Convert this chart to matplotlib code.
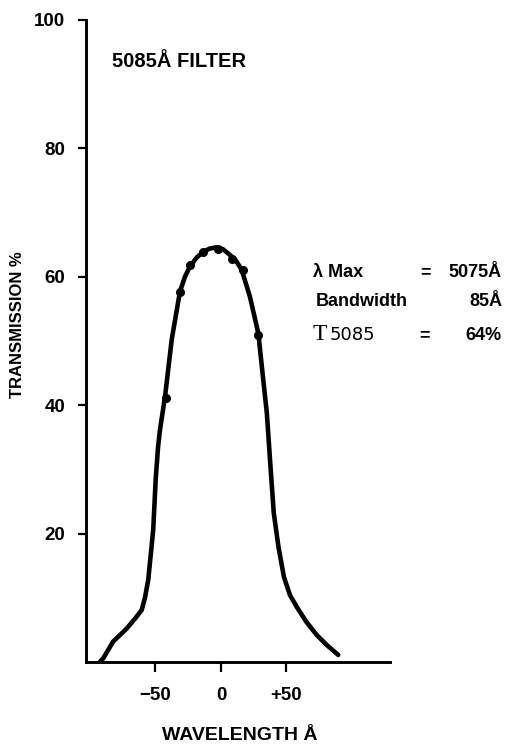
import numpy as np
import matplotlib
matplotlib.use("Agg")
import matplotlib.pyplot as plt

# transmission curve of the 5085 A filter
wave = [-92.4, -89.8, -82.2, -72.0, -65.0, -60.5, -58.0, -55.5, -51.7, -49.8,
        -48.0, -46.6, -42.7, -37.6, -31.3, -27.5, -23.7, -18.5, -13.5, -8.5,
        -3.3, 1.5, 6.9, 11.5, 15.8, 22.1, 28.5, 32.3, 35.0, 37.6,
        40.3, 43.9, 48.1, 52.7, 57.8, 65.0, 73.1, 81.0, 89.5]
trans = [0.0, 0.6, 3.2, 5.2, 6.9, 8.1, 10.0, 12.8, 20.6, 28.5,
         33.5, 36.1, 41.3, 50.2, 57.7, 60.0, 61.6, 63.0, 63.9, 64.4,
         64.6, 64.3, 63.4, 62.5, 61.1, 56.9, 51.2, 43.9, 38.8, 31.0,
         23.2, 17.9, 13.2, 10.4, 8.6, 6.3, 4.2, 2.6, 1.1]

# measured points
dot_wave = [-42.0, -31.3, -23.7, -13.7, -2.3, 8.4, 16.8, 28.2]
dot_trans = [41.1, 57.6, 61.9, 63.9, 64.3, 62.8, 61.1, 51.0]

xticks = [-50, 0, 50]
xticklabels = ["\u221250", "0", "+50"]
yticks = [20, 40, 60, 80, 100]

W, H = 506, 747
plt.rcParams["font.family"] = ["Liberation Sans", "DejaVu Sans"]
plt.rcParams["font.weight"] = "bold"

fig = plt.figure(figsize=(W / 100, H / 100), dpi=100)
ax = fig.add_axes([86 / W, 1 - 662 / H, (390 - 86) / W, (662 - 20) / H])

ax.plot(wave, trans, color="black", lw=3.3, solid_capstyle="round",
        solid_joinstyle="round")
ax.plot(dot_wave, dot_trans, "o", color="black", ms=5.5)

ax.set_xlim(-103, 129)
ax.set_ylim(0, 100)
ax.spines["top"].set_visible(False)
ax.spines["right"].set_visible(False)
ax.spines["left"].set_linewidth(2.1)
ax.spines["bottom"].set_linewidth(2.1)

ax.set_xticks(xticks)
ax.set_xticklabels(xticklabels)
ax.set_yticks(yticks)
ax.tick_params(axis="x", direction="out", length=7, width=1.6, pad=11,
               labelsize=13.5)
ax.tick_params(axis="y", direction="out", length=6, width=1.6, pad=9,
               labelsize=13.5)


def px(x, y):
    return x / W, 1 - y / H


fig.text(*px(112, 67), "5085\u00c5 FILTER", fontsize=14.5, va="baseline",
         ha="left")
fig.text(*px(18, 325), "TRANSMISSION %", fontsize=12, rotation=90,
         ha="center", va="center")
fig.text(*px(240, 740), "WAVELENGTH \u00c5", fontsize=14, ha="center",
         va="baseline")

# annotation block
fig.text(*px(313, 277), "\u03bb Max", fontsize=13, va="baseline")
fig.text(*px(426, 277), "=", fontsize=13, va="baseline", ha="center")
fig.text(*px(502, 277), "5075\u00c5", fontsize=13, va="baseline", ha="right")
fig.text(*px(316, 306), "Bandwidth", fontsize=13, va="baseline")
fig.text(*px(502, 306), "85\u00c5", fontsize=13, va="baseline", ha="right")
fig.text(*px(313, 340), "T", fontsize=17, family="Liberation Serif",
         weight="normal", va="baseline")
fig.text(*px(330, 340), "5085", fontsize=13, family="DejaVu Sans",
         weight="normal", va="baseline")
fig.text(*px(425, 340), "=", fontsize=13, va="baseline", ha="center")
fig.text(*px(502, 340), "64%", fontsize=13, va="baseline", ha="right")

fig.savefig("out.png", dpi=100, facecolor="white")
